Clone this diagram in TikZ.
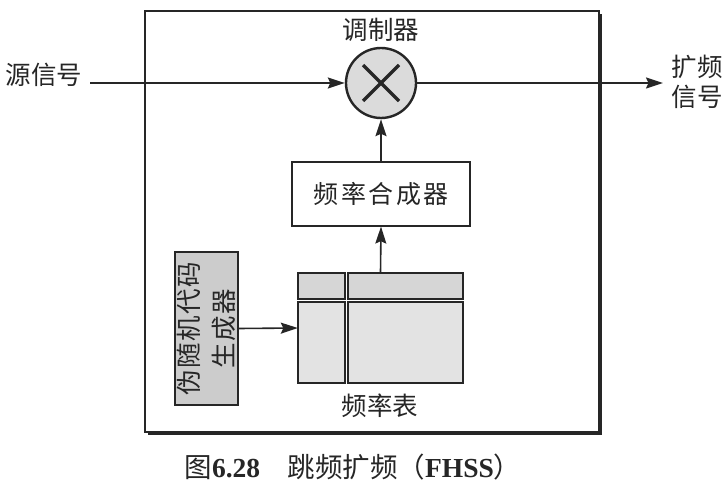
\documentclass[tikz,border=0pt]{standalone}
\usepackage{fontspec}
\setmainfont{Liberation Serif}
\newfontfamily\cjk{Noto Sans CJK SC}
\newfontfamily\cjkls[LetterSpace=10]{Noto Sans CJK SC}
\newfontfamily\cjkpn[LetterSpace=6]{Noto Sans CJK SC}
\usetikzlibrary{arrows.meta}
\definecolor{ink}{gray}{0.15}
\begin{document}
\begin{tikzpicture}[x=1pt,y=-1pt,
  lab/.style={font=\cjk\fontsize{25.5}{30}\selectfont, inner sep=0pt, text=ink},
  conn/.style={line width=1.6pt, draw=ink, -{Stealth[length=17pt,width=11pt,inset=2.5pt]}},
  boxstyle/.style={draw=ink, line width=1.2pt, inner sep=0pt},
  cell/.style={draw=ink, line width=1.1pt, fill=gray!22}]
\useasboundingbox (0,0) rectangle (728,489);
% outer frame with shadow
\draw[line width=2.6pt, draw=ink] (148,433.5) -- (600.5,433.5) -- (600.5,14);
\node[boxstyle, fill=white, minimum width=454pt, minimum height=421pt] (frame) at (372,221.5) {};
% modulator
\node[circle, draw=ink, line width=2.4pt, fill=gray!28, minimum size=70pt, inner sep=0pt] (mod) at (381,83) {};
\draw[line width=3.4pt, draw=ink] ([shift={(-18,-18)}]mod.center) -- ([shift={(18,18)}]mod.center);
\draw[line width=3.4pt, draw=ink] ([shift={(-18,18)}]mod.center) -- ([shift={(18,-18)}]mod.center);
\node[lab] (modlab) at (381,30) {调制器};
% source and output
\node[lab] (srclab) at (44,75) {源信号};
\coordinate (src) at (90,83);
\coordinate (out) at (663,83);
\draw[conn] (src) -- (mod.west);
\draw[conn] (mod.east) -- (out);
\node[lab, align=center, font=\cjk\fontsize{25.5}{29.5}\selectfont] (outlab) at (697,82) {扩频\\信号};
% synthesizer
\node[boxstyle, minimum width=178pt, minimum height=64pt] (syn) at (381,194) {};
\node[lab, font=\cjkls\fontsize{25}{30}\selectfont] (synlab) at (syn.center) {频率合成器};
\draw[conn] (syn.north) -- (mod.south);
% frequency table
\node[inner sep=0pt, minimum width=165pt, minimum height=110pt] (tbl) at (380.5,328) {};
\draw[cell, fill=gray!32] (298,273) rectangle (345,299);
\draw[cell, fill=gray!32] (348,273) rectangle (463,299);
\draw[cell] (298,302) rectangle (345,383);
\draw[cell] (348,302) rectangle (463,383);
\node[lab] (tbllab) at (380,406) {频率表};
\draw[conn] (tbl.north) -- (syn.south);
% PN generator
\node[boxstyle, fill=gray!40, minimum width=63pt, minimum height=153pt] (pn) at (206.5,328.5) {};
\node[lab, rotate=90, align=center, font=\cjkpn\fontsize{25.5}{35}\selectfont] (pnlab) at (pn.center) {伪随机代码\\生成器};
\draw[conn] (pn.east) -- (tbl.west);
% caption
\node[inner sep=0pt, text=ink] (cap) at (353,467) {\cjk\fontsize{27.5}{31}\selectfont 图{\rmfamily\bfseries 6.28}\quad 跳频扩频（{\rmfamily\bfseries FHSS}）};
\end{tikzpicture}
\end{document}
